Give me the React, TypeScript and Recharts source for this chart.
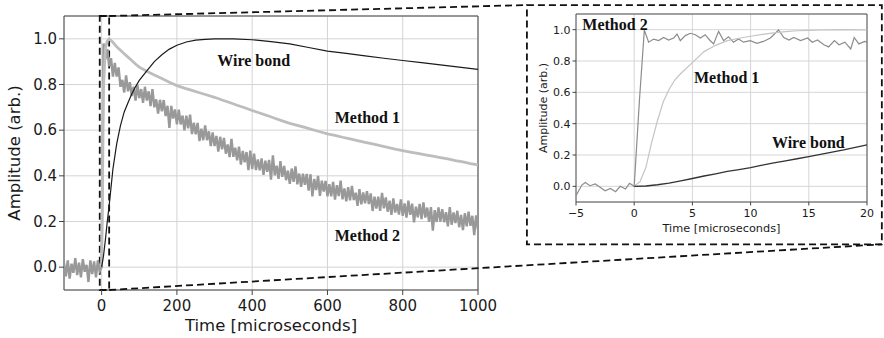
import {
  ComposedChart,
  Line,
  XAxis,
  YAxis,
  CartesianGrid,
  ReferenceArea,
  ReferenceLine,
  ReferenceDot,
} from 'recharts';

const AXIS_FONT = '"DejaVu Sans", sans-serif';
const NOTE_FONT = '"Liberation Serif", "Times New Roman", serif';

// ---- main plot (0..1000 us) ----
const mainXTicks = [0, 200, 400, 600, 800, 1000];
const yTicks = [0, 0.2, 0.4, 0.6, 0.8, 1.0];

// Method 2 sampled every 5 us from -100 us (noisy trace)
const M2_START = -100;
const M2_STEP = 5;
const m2Value = [
  0.02, -0.04, 0.03, -0.05, 0.015, -0.025, 0.04, -0.035, 0.02, -0.045, 0.035, -0.02, 0.01, -0.065, 0.03, -0.03, 0.025, -0.045, 0.03, -0.015,
  0.0,
  0.98, 0.91, 0.955, 0.88, 0.915, 0.835, 0.895, 0.835, 0.875, 0.79, 0.82, 0.765, 0.84, 0.77, 0.81, 0.75, 0.79, 0.73, 0.798, 0.74,
  0.78, 0.72, 0.79, 0.73, 0.77, 0.705, 0.78, 0.70, 0.735, 0.673, 0.733, 0.683, 0.732, 0.662, 0.707, 0.61, 0.706, 0.651, 0.691, 0.625,
  0.69, 0.625, 0.664, 0.599, 0.664, 0.608, 0.668, 0.583, 0.633, 0.582, 0.632, 0.552, 0.606, 0.556, 0.621, 0.556, 0.595, 0.53, 0.59, 0.53,
  0.575, 0.506, 0.571, 0.516, 0.566, 0.497, 0.537, 0.482, 0.562, 0.483, 0.523, 0.468, 0.528, 0.449, 0.509, 0.459, 0.504, 0.425, 0.51, 0.43,
  0.497, 0.425, 0.472, 0.424, 0.476, 0.404, 0.466, 0.418, 0.47, 0.383, 0.49, 0.402, 0.444, 0.387, 0.464, 0.396, 0.443, 0.381, 0.423, 0.365,
  0.432, 0.374, 0.441, 0.363, 0.41, 0.352, 0.409, 0.361, 0.408, 0.335, 0.407, 0.31, 0.386, 0.338, 0.40, 0.312, 0.379, 0.331, 0.378, 0.31,
  0.363, 0.31, 0.373, 0.296, 0.359, 0.311, 0.379, 0.297, 0.345, 0.288, 0.35, 0.293, 0.356, 0.294, 0.326, 0.269, 0.342, 0.275, 0.327, 0.28,
  0.333, 0.276, 0.323, 0.246, 0.309, 0.257, 0.309, 0.247, 0.325, 0.258, 0.305, 0.243, 0.291, 0.229, 0.301, 0.239, 0.277, 0.23, 0.297, 0.225,
  0.279, 0.217, 0.291, 0.229, 0.278, 0.196, 0.265, 0.218, 0.277, 0.21, 0.284, 0.217, 0.261, 0.199, 0.263, 0.16, 0.25, 0.198, 0.262, 0.20,
  0.254, 0.197, 0.241, 0.179, 0.263, 0.186, 0.24, 0.193, 0.247, 0.175, 0.229, 0.162, 0.236, 0.179, 0.243, 0.181, 0.225, 0.14, 0.227, 0.165,
];

const m1Time = [
  0, 5, 10, 15, 20, 30, 40, 50, 60, 70, 80, 90, 100, 120, 140, 160, 180, 200, 220, 240, 260, 280, 300,
  320, 340, 360, 380, 400, 420, 440, 460, 480, 500, 520, 540, 560, 580, 600, 620, 640, 660, 680, 700,
  720, 740, 760, 780, 800, 820, 840, 860, 880, 900, 920, 940, 960, 980, 1000,
];
const m1Value = [
  0, 0.79, 0.96, 0.99, 1.0, 0.985, 0.965, 0.95, 0.935, 0.92, 0.905, 0.89, 0.876, 0.858, 0.842, 0.826, 0.81, 0.795, 0.784, 0.774, 0.764, 0.754, 0.744,
  0.732, 0.721, 0.709, 0.698, 0.686, 0.675, 0.664, 0.652, 0.641, 0.63, 0.621, 0.612, 0.602, 0.593, 0.584, 0.577, 0.569, 0.562, 0.554, 0.547,
  0.54, 0.532, 0.525, 0.517, 0.51, 0.504, 0.498, 0.492, 0.486, 0.48, 0.474, 0.467, 0.461, 0.454, 0.448,
];

const wbTime = [
  0, 5, 10, 15, 20, 25, 30, 40, 50, 60, 70, 80, 90, 100, 120, 140, 160, 180, 200, 225, 250, 275, 300,
  350, 400, 450, 500, 550, 600, 650, 700, 750, 800, 850, 900, 950, 1000,
];
const wbValue = [
  0, 0.05, 0.12, 0.2, 0.27, 0.35, 0.43, 0.54, 0.62, 0.68, 0.72, 0.758, 0.79, 0.818, 0.86, 0.9, 0.93, 0.955, 0.972, 0.986, 0.994, 0.998, 1.0,
  1.0, 0.996, 0.988, 0.978, 0.962, 0.946, 0.936, 0.925, 0.915, 0.905, 0.896, 0.886, 0.876, 0.866,
];

// ---- inset (-5..20 us) ----
const insetXTicks = [-5, 0, 5, 10, 15, 20];

const im2Time = [
  -5, -4.5, -4.2, -3.8, -3.35, -2.9, -2.5, -2.05, -1.6, -1.2, -0.75, -0.4, 0, 0.45, 0.87, 1.24, 1.67, 2.1, 2.53, 2.96,
  3.39, 3.68, 3.96, 4.39, 4.82, 5.25, 5.68, 6.1, 6.48, 6.82, 7.25, 7.68, 8.1, 8.53, 8.96, 9.39, 9.97, 10.54, 11.1, 11.7,
  12.4, 12.85, 13.3, 13.7, 14.3, 14.9, 15.3, 15.75, 16.3, 16.7, 17.2, 17.6, 18.1, 18.6, 18.9, 19.3, 19.8, 20,
];
const im2Value = [
  -0.06, 0.008, 0.025, 0.004, 0.015, -0.007, -0.028, -0.013, -0.034, 0.0, -0.017, 0.019, 0.0, 0.55, 0.998, 0.92, 0.94, 0.93, 0.95, 0.934,
  0.947, 0.972, 0.93, 0.962, 0.977, 0.968, 0.947, 0.968, 0.934, 0.909, 0.989, 0.93, 0.955, 0.92, 0.94, 0.92, 0.93, 0.913, 0.925, 0.947,
  0.998, 0.95, 0.934, 0.95, 0.93, 0.947, 0.92, 0.934, 0.904, 0.89, 0.93, 0.904, 0.92, 0.877, 0.95, 0.909, 0.925, 0.92,
];

const im1Time = [0, 0.5, 1, 1.5, 2, 2.5, 3, 3.5, 4, 5, 6, 7, 8, 9, 10, 11, 12, 13, 14, 15, 16, 18, 20];
const im1Value = [0, 0.03, 0.12, 0.28, 0.42, 0.54, 0.62, 0.68, 0.72, 0.79, 0.86, 0.9, 0.93, 0.945, 0.958, 0.97, 0.98, 0.988, 0.993, 0.996, 0.998, 1.0, 0.998];

const iwbTime = [0, 1, 2, 3, 4, 5, 6, 7, 8, 9, 10, 11, 12, 13, 14, 15, 16, 17, 18, 19, 20];
const iwbValue = [0, 0.002, 0.01, 0.02, 0.035, 0.05, 0.066, 0.08, 0.095, 0.107, 0.12, 0.135, 0.15, 0.163, 0.176, 0.19, 0.204, 0.218, 0.232, 0.248, 0.265];

const pairs = (ts: number[], vs: number[]) => ts.map((t, i) => ({ t, v: vs[i] }));

const m2Data = m2Value.map((v, i) => ({ t: M2_START + i * M2_STEP, v }));
const m1Data = pairs(m1Time, m1Value);
const wbData = pairs(wbTime, wbValue);
const im2Data = pairs(im2Time, im2Value);
const im1Data = pairs(im1Time, im1Value);
const iwbData = pairs(iwbTime, iwbValue);

const fmtMinus = (v: number) => (v < 0 ? '\u2212' + Math.abs(v) : String(v));

const note = (value: string) => ({
  value,
  position: 'center' as const,
  fontSize: 16,
  fontWeight: 'bold',
  fontFamily: NOTE_FONT,
  fill: '#111',
});

const dashed = { stroke: '#111', strokeWidth: 1.8, strokeDasharray: '7 4' };

function MainChart() {
  return (
    <ComposedChart width={884} height={338} margin={{ top: 16, right: 406, bottom: 0, left: 0 }}>
      <CartesianGrid stroke="#d4d4d4" />
      <XAxis
        type="number"
        dataKey="t"
        domain={[-100, 1000]}
        ticks={mainXTicks}
        allowDataOverflow
        height={48}
        axisLine={false}
        tickLine={{ stroke: '#444' }}
        tickSize={5}
        tickMargin={5}
        tick={{ fontSize: 15, fill: '#1a1a1a', fontFamily: AXIS_FONT }}
        label={{ value: 'Time [microseconds]', position: 'insideBottom', offset: 7, fontSize: 16.5, fill: '#1a1a1a', fontFamily: AXIS_FONT }}
      />
      <YAxis
        type="number"
        domain={[-0.1, 1.1]}
        ticks={yTicks}
        allowDataOverflow
        width={64}
        axisLine={false}
        tickLine={{ stroke: '#444' }}
        tickSize={5}
        tickFormatter={(v: number) => v.toFixed(1)}
        tick={{ fontSize: 15, fill: '#1a1a1a', fontFamily: AXIS_FONT }}
        label={{ value: 'Amplitude (arb.)', angle: -90, position: 'insideLeft', offset: 14, style: { textAnchor: 'middle' }, fontSize: 16.5, fill: '#1a1a1a', fontFamily: AXIS_FONT }}
      />
      <Line data={m2Data} dataKey="v" type="linear" stroke="#999" strokeWidth={2.4} dot={false} isAnimationActive={false} />
      <Line data={m1Data} dataKey="v" type="linear" stroke="#bdbdbd" strokeWidth={2.8} dot={false} isAnimationActive={false} />
      <Line data={wbData} dataKey="v" type="linear" stroke="#1a1a1a" strokeWidth={1.2} dot={false} isAnimationActive={false} />
      <ReferenceArea x1={-100} x2={1000} y1={-0.1} y2={1.1} fill="none" stroke="#444" strokeWidth={1} ifOverflow="visible" />
      {/* zoomed region and inset frame with connectors */}
      <ReferenceArea x1={-5} x2={20} y1={-0.1} y2={1.1} fill="none" {...dashed} ifOverflow="visible" />
      <ReferenceArea x1={1130} x2={2073} y1={0.1} y2={1.148} fill="none" {...dashed} ifOverflow="visible" />
      <ReferenceLine segment={[{ x: 20, y: 1.1 }, { x: 1130, y: 1.148 }]} {...dashed} ifOverflow="visible" />
      <ReferenceLine segment={[{ x: 20, y: -0.1 }, { x: 2073, y: 0.1 }]} {...dashed} ifOverflow="visible" />
      <ReferenceDot x={404} y={0.904} r={0} stroke="none" fill="none" label={note('Wire bond')} />
      <ReferenceDot x={706} y={0.656} r={0} stroke="none" fill="none" label={note('Method 1')} />
      <ReferenceDot x={706} y={0.141} r={0} stroke="none" fill="none" label={note('Method 2')} />
    </ComposedChart>
  );
}

function InsetChart() {
  return (
    <ComposedChart width={352} height={236} margin={{ top: 8, right: 13, bottom: 0, left: 0 }}>
      <CartesianGrid stroke="#d6d6d6" />
      <XAxis
        type="number"
        dataKey="t"
        domain={[-5, 20]}
        ticks={insetXTicks}
        allowDataOverflow
        height={40}
        axisLine={false}
        tickLine={{ stroke: '#444' }}
        tickSize={3.5}
        tickMargin={3.5}
        tickFormatter={fmtMinus}
        tick={{ fontSize: 11, fill: '#1a1a1a', fontFamily: AXIS_FONT }}
        label={{ value: 'Time [microseconds]', position: 'insideBottom', offset: 10, fontSize: 11.3, fill: '#1a1a1a', fontFamily: AXIS_FONT }}
      />
      <YAxis
        type="number"
        domain={[-0.1, 1.1]}
        ticks={yTicks}
        allowDataOverflow
        width={48}
        axisLine={false}
        tickLine={{ stroke: '#444' }}
        tickSize={3.5}
        tickFormatter={(v: number) => v.toFixed(1)}
        tick={{ fontSize: 11, fill: '#1a1a1a', fontFamily: AXIS_FONT }}
        label={{ value: 'Amplitude (arb.)', angle: -90, position: 'insideLeft', offset: 15, style: { textAnchor: 'middle' }, fontSize: 11, fill: '#1a1a1a', fontFamily: AXIS_FONT }}
      />
      <Line data={im2Data} dataKey="v" type="linear" stroke="#8c8c8c" strokeWidth={1.2} dot={false} isAnimationActive={false} />
      <Line data={im1Data} dataKey="v" type="linear" stroke="#c4c4c4" strokeWidth={1.2} dot={false} isAnimationActive={false} />
      <Line data={iwbData} dataKey="v" type="linear" stroke="#333" strokeWidth={1.3} dot={false} isAnimationActive={false} />
      <ReferenceArea x1={-5} x2={20} y1={-0.1} y2={1.1} fill="none" stroke="#555" strokeWidth={1} ifOverflow="visible" />
      <ReferenceDot x={-1.65} y={1.036} r={0} stroke="none" fill="none" label={note('Method 2')} />
      <ReferenceDot x={7.94} y={0.696} r={0} stroke="none" fill="none" label={note('Method 1')} />
      <ReferenceDot x={14.96} y={0.279} r={0} stroke="none" fill="none" label={note('Wire bond')} />
    </ComposedChart>
  );
}

export default function App() {
  return (
    <div style={{ position: 'absolute', left: 0, top: 0, width: 884, height: 338, background: '#fff' }}>
      <div style={{ position: 'absolute', left: 0, top: 0 }}>
        <MainChart />
      </div>
      <div style={{ position: 'absolute', left: 528, top: 6 }}>
        <InsetChart />
      </div>
    </div>
  );
}
